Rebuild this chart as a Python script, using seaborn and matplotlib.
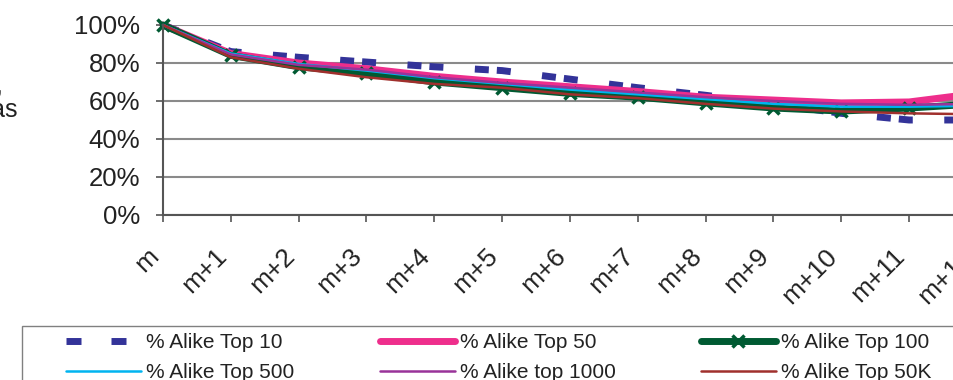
import numpy as np
import pandas as pd
import matplotlib
matplotlib.use('Agg')
import matplotlib.pyplot as plt
import matplotlib.transforms as mtransforms
from matplotlib.patches import Rectangle
import seaborn as sns

# data (percent)
months = ['m', 'm+1', 'm+2', 'm+3', 'm+4', 'm+5', 'm+6', 'm+7', 'm+8', 'm+9', 'm+10', 'm+11', 'm+12']
top10 = [100, 86, 83, 80.5, 78, 76, 71.5, 67, 63, 58.5, 53.5, 50, 50]
top50 = [100, 85, 80, 77, 73, 70, 67.5, 65, 62, 60.5, 59, 59.5, 64]
top100 = [100, 84, 78, 74.7, 70, 67, 64, 62, 59, 56.3, 54.7, 56.3, 58.5]
top500 = [100, 85, 79.5, 76, 72, 69, 66, 63.5, 61, 58.5, 57, 57, 57.5]
top1000 = [100, 84.5, 79, 76.5, 72.5, 69.5, 67, 64.5, 62, 60, 58.5, 58, 58.5]
top50k = [100, 83, 77, 72.5, 69, 67, 63.5, 61.5, 58.5, 56, 54.5, 53.5, 53]

W, H = 954, 380
px = 0.72  # points per pixel at dpi 100

sns.set_style('white')
plt.rcParams['font.family'] = ['Liberation Sans', 'DejaVu Sans']
plt.rcParams['lines.scale_dashes'] = False

fig = plt.figure(figsize=(W / 100, H / 100), dpi=100)
ax = fig.add_axes([163 / W, 1 - 215 / H, 814 / W, 190 / H])

steps = np.arange(len(months))
df = pd.DataFrame({'step': steps, '% Alike Top 10': top10, '% Alike Top 50': top50,
                   '% Alike Top 100': top100, '% Alike Top 500': top500,
                   '% Alike top 1000': top1000, '% Alike Top 50K': top50k})

dash_top10 = (20 * px, (14 * px, 8 * px, 14 * px, 31.5 * px))
green = '#005A32'
styles = {
    '% Alike Top 10': dict(color='#333399', linewidth=5, linestyle=dash_top10),
    '% Alike Top 50': dict(color='#EE2E8C', linewidth=5, solid_capstyle='round'),
    '% Alike Top 100': dict(color=green, linewidth=5, solid_capstyle='round',
                            marker='x', markersize=9, markeredgewidth=2.5,
                            markeredgecolor=green),
    '% Alike Top 500': dict(color='#00B4F0', linewidth=1.8),
    '% Alike top 1000': dict(color='#993399', linewidth=1.8),
    '% Alike Top 50K': dict(color='#A0302D', linewidth=1.8),
}

for name, kw in styles.items():
    sns.lineplot(data=df, x='step', y=name, ax=ax, label=name, clip_on=False, **kw)

if ax.get_legend() is not None:
    ax.get_legend().remove()

ax.set_xlim(0, 12)
ax.set_ylim(0, 100)
ax.set_yticks(range(0, 101, 20))
ax.set_yticklabels([f'{v}%' for v in range(0, 101, 20)])
ax.set_xticks(steps)
ax.set_xticklabels(months, rotation=45, ha='right', va='center', rotation_mode='anchor')
ax.set_xlabel('')
ax.set_ylabel('')

ax.yaxis.grid(True, color='#8a8a8a', linewidth=1.5)
ax.xaxis.grid(False)
ax.set_axisbelow(True)
for s in ['top', 'right']:
    ax.spines[s].set_visible(False)
for s in ['left', 'bottom']:
    ax.spines[s].set_color('#555555')
    ax.spines[s].set_linewidth(1.5)

ax.tick_params(axis='y', direction='out', length=5, width=1.2, color='#555555',
               labelsize=18.5, pad=11.5, labelcolor='#222222', left=True)
ax.tick_params(axis='x', direction='out', length=5, width=1.2, color='#555555',
               labelsize=19, pad=22, labelcolor='#222222', bottom=True)
shift = mtransforms.ScaledTranslation(-8 / 100, 0, fig.dpi_scale_trans)
for lab in ax.get_xticklabels():
    lab.set_transform(lab.get_transform() + shift)

# legend, rows as in the reference
handles, labels = ax.get_legend_handles_labels()
order = [0, 3, 1, 4, 2, 5]
leg = fig.legend([handles[i] for i in order], [labels[i] for i in order],
                 loc='upper left', bbox_to_anchor=(66 / W, 1 - 333 / H),
                 ncol=3, frameon=False, fontsize=15, handlelength=3.6,
                 handletextpad=0.24, columnspacing=4.1, borderpad=0,
                 borderaxespad=0, labelspacing=0.55)
leg.legend_handles[0].set_linestyle((0, (15 * px, 30 * px)))
for t in leg.get_texts():
    t.set_color('#222222')
fig.patches.append(Rectangle((22 / W, -0.2), 1.2, 1.2 - 326 / H, transform=fig.transFigure,
                             fill=False, edgecolor='#808080', linewidth=1))

# partly hidden axis title at the left edge
fig.text(4 / W, 1 - 92 / H, 'Alike,', ha='right', va='baseline', fontsize=18, color='#222222')
fig.text(18 / W, 1 - 117 / H, 'ideas', ha='right', va='baseline', fontsize=18, color='#222222')

fig.savefig('out.png', dpi=100)
